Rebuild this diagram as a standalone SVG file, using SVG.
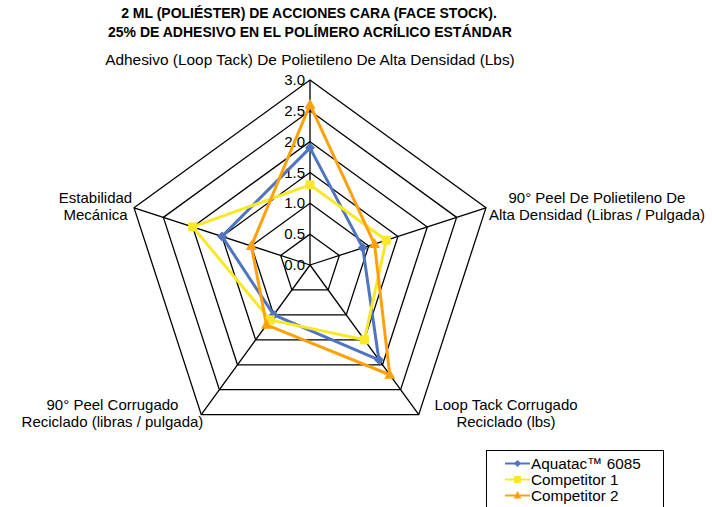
<svg xmlns="http://www.w3.org/2000/svg" width="712" height="507" viewBox="0 0 712 507">
<defs>
<style>
text{font-family:"Liberation Sans",Arial,sans-serif;font-size:15px;fill:#000}
.title{font-weight:bold;font-size:14px}
.grid{fill:none;stroke:#000;stroke-width:1.3}
.s1{fill:none;stroke:#4F74C0;stroke-width:3;stroke-linejoin:round}
.s2{fill:none;stroke:#F8E827;stroke-width:3;stroke-linejoin:round}
.s3{fill:none;stroke:#FFA10A;stroke-width:3;stroke-linejoin:round}
.m1{fill:#4F74C0}
.m2{fill:#F8E827}
.m3{fill:#FFA10A}
</style>
<path id="dia" d="M0,-5 L5,0 L0,5 L-5,0 Z"/>
<path id="sq" d="M-4.5,-4.5 H4.5 V4.5 H-4.5 Z"/>
<path id="tri" d="M0,-6 L5.5,4 L-5.5,4 Z"/>
<path id="ldia" d="M0,-3.5 L3.5,0 L0,3.5 L-3.5,0 Z"/>
<path id="lsq" d="M-3.5,-3.5 H3.5 V3.5 H-3.5 Z"/>
<path id="ltri" d="M0,-4.5 L4,3 L-4,3 Z"/>
</defs>
<rect width="712" height="507" fill="#fff"/>
<g id="title">
<text class="title" x="309" y="18" text-anchor="middle">2 ML (POLIÉSTER) DE ACCIONES CARA (FACE STOCK).</text>
<text class="title" x="310" y="37" text-anchor="middle">25% DE ADHESIVO EN EL POLÍMERO ACRÍLICO ESTÁNDAR</text>
</g>
<g id="grid">
<polygon class="grid" points="310,234.17 339.32,255.47 328.12,289.94 291.88,289.94 280.68,255.47"/>
<polygon class="grid" points="310,203.33 368.65,245.94 346.25,314.89 273.75,314.89 251.35,245.94"/>
<polygon class="grid" points="310,172.5 397.97,236.42 364.37,339.83 255.63,339.83 222.03,236.42"/>
<polygon class="grid" points="310,141.67 427.30,226.89 382.49,364.78 237.51,364.78 192.70,226.89"/>
<polygon class="grid" points="310,110.83 456.62,217.36 400.62,389.72 219.38,389.72 163.38,217.36"/>
<polygon class="grid" points="310,80 485.95,207.83 418.74,414.67 201.26,414.67 134.05,207.83"/>
<path class="grid" d="M310,265 V80 M310,265 L485.95,207.83 M310,265 L418.74,414.67 M310,265 L201.26,414.67 M310,265 L134.05,207.83"/>
</g>
<g id="scale" text-anchor="end">
<text x="305" y="270">0.0</text>
<text x="305" y="239.2">0.5</text>
<text x="305" y="208.3">1.0</text>
<text x="305" y="177.5">1.5</text>
<text x="305" y="146.7">2.0</text>
<text x="305" y="115.8">2.5</text>
<text x="305" y="85">3.0</text>
</g>
<g id="axis-labels" text-anchor="middle">
<text x="310" y="65" style="font-size:15.4px">Adhesivo (Loop Tack) De Polietileno De Alta Densidad (Lbs)</text>
<text x="597" y="203">90° Peel De Polietileno De</text>
<text x="597" y="219.5">Alta Densidad (Libras / Pulgada)</text>
<text x="506" y="410">Loop Tack Corrugado</text>
<text x="506" y="426.5">Reciclado (lbs)</text>
<text x="112.5" y="410">90° Peel Corrugado</text>
<text x="112.5" y="426.5">Reciclado (libras / pulgada)</text>
<text x="95.5" y="203">Estabilidad</text>
<text x="95.5" y="219.5">Mecánica</text>
</g>
<g id="connectors">
<polygon class="s1" points="310,147.83 362.78,247.85 378.87,359.79 273.75,314.89 222.03,236.42"/>
<polygon class="s2" points="310,184.83 386.24,240.23 364.37,339.83 270.13,319.88 192.70,226.89"/>
<polygon class="s3" points="310,104.67 374.51,244.04 389.74,374.76 266.50,324.87 251.35,245.94"/>
</g>
<g id="series-aquatac" class="m1">
<use href="#dia" x="310" y="147.83"/>
<use href="#dia" x="362.78" y="247.85"/>
<use href="#dia" x="378.87" y="359.79"/>
<use href="#dia" x="273.75" y="314.89"/>
<use href="#dia" x="222.03" y="236.42"/>
</g>
<g id="series-competitor1" class="m2">
<use href="#sq" x="310" y="184.83"/>
<use href="#sq" x="386.24" y="240.23"/>
<use href="#sq" x="364.37" y="339.83"/>
<use href="#sq" x="270.13" y="319.88"/>
<use href="#sq" x="192.70" y="226.89"/>
</g>
<g id="series-competitor2" class="m3">
<use href="#tri" x="310" y="104.67"/>
<use href="#tri" x="374.51" y="244.04"/>
<use href="#tri" x="389.74" y="374.76"/>
<use href="#tri" x="266.50" y="324.87"/>
<use href="#tri" x="251.35" y="245.94"/>
</g>
<g id="legend">
<rect x="486.5" y="450.5" width="177" height="62" fill="#fff" stroke="#000" stroke-width="1"/>
<line class="s1" x1="505" y1="463.5" x2="530" y2="463.5" style="stroke-width:2"/>
<use href="#ldia" x="517.5" y="463.5" class="m1"/>
<text x="531" y="469" style="font-size:15.3px">Aquatac™ 6085</text>
<line class="s2" x1="505" y1="479.5" x2="530" y2="479.5" style="stroke-width:2"/>
<use href="#lsq" x="517.5" y="479.5" class="m2"/>
<text x="531" y="485" style="font-size:15.3px">Competitor 1</text>
<line class="s3" x1="505" y1="495.5" x2="530" y2="495.5" style="stroke-width:2"/>
<use href="#ltri" x="517.5" y="495.5" class="m3"/>
<text x="531" y="501" style="font-size:15.3px">Competitor 2</text>
</g>
</svg>
